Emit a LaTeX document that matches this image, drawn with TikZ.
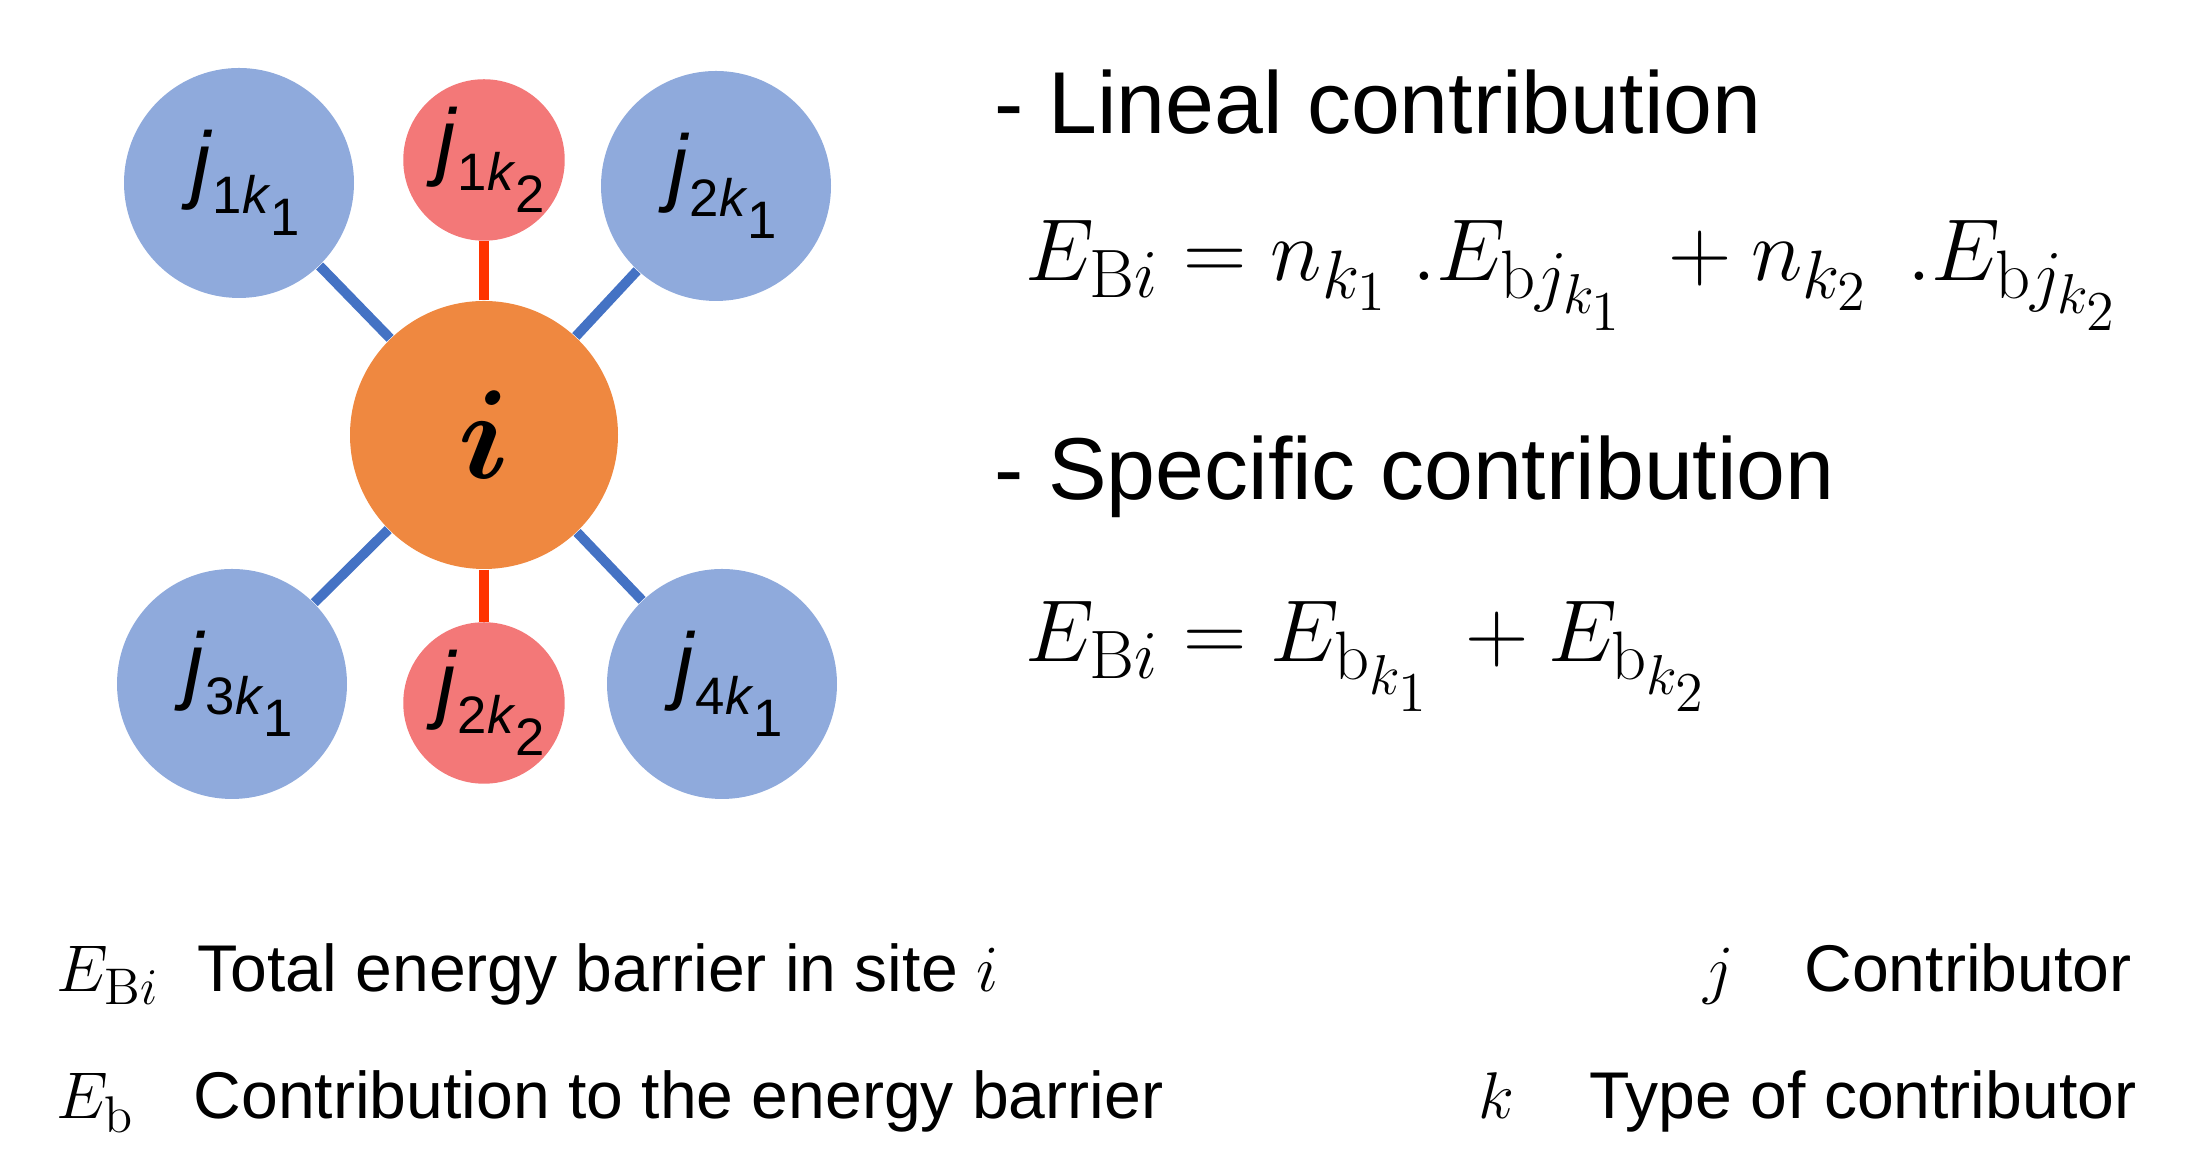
\RequirePackage{fix-cm}
\documentclass[tikz,border=0pt]{standalone}
\usepackage[no-math]{fontspec}
\setmainfont{Liberation Sans}
\renewcommand{\defaultscriptratio}{.78}
\renewcommand{\defaultscriptscriptratio}{.64}
\definecolor{siteorange}{HTML}{EF8840}
\definecolor{siteblue}{HTML}{8FAADC}
\definecolor{sitered}{HTML}{F37878}
\definecolor{bondblue}{HTML}{4472C4}
\definecolor{bondred}{HTML}{FF3300}
\newcommand{\jsite}[2]{\hspace*{4pt}\textit{j}\raisebox{-6pt}{\fontsize{15}{15}\selectfont #1\textit{k}\raisebox{-6.2pt}{#2}}}
\newcommand{\isite}{{\fontencoding{OML}\fontfamily{cmm}\fontseries{b}\fontshape{it}\fontsize{36}{36}\selectfont i}}
\begin{document}
\begin{tikzpicture}[scale=1.0,
    bigsite/.style={circle,fill=siteblue,minimum size=2.3cm,inner sep=0pt,font=\fontsize{24.5}{24.5}\selectfont},
    smallsite/.style={circle,fill=sitered,minimum size=1.6cm,inner sep=0pt,font=\fontsize{24.5}{24.5}\selectfont},
    bluebond/.style={draw=bondblue,line width=2.8pt},
    redbond/.style={draw=bondred,line width=2.8pt},
    head/.style={anchor=base west,inner sep=0pt,font=\fontsize{25}{25}\selectfont},
    eq/.style={anchor=base west,inner sep=0pt,font=\fontsize{25}{25}\selectfont},
    legend/.style={anchor=base west,inner sep=0pt,font=\fontsize{18.8}{18.8}\selectfont}]
    \useasboundingbox (0,0) rectangle (22.07,11.64);
    \node[circle,fill=siteorange,minimum size=2.68cm,inner sep=0pt] (i) at (4.84,7.29) {\isite};
    \node[smallsite] (j1k2) at (4.84,10.04) {\jsite{1}{2}};
    \node[smallsite] (j2k2) at (4.84,4.61) {\jsite{2}{2}};
    \node[bigsite] (j1k1) at (2.39,9.81) {\jsite{1}{1}};
    \node[bigsite] (j2k1) at (7.16,9.78) {\jsite{2}{1}};
    \node[bigsite] (j3k1) at (2.32,4.80) {\jsite{3}{1}};
    \node[bigsite] (j4k1) at (7.22,4.80) {\jsite{4}{1}};
    \draw[redbond] (i) -- (j1k2);
    \draw[redbond] (i) -- (j2k2);
    \foreach \j in {j1k1,j2k1,j3k1,j4k1}
        \draw[bluebond] (i) -- (\j);
    \node[head] (lineal) at (9.94,10.30) {- Lineal contribution};
    \node[eq] (eqlineal) at (10.25,8.83) {$E_{\mathrm{B}i}=n_{k_1}\;.E_{\mathrm{b}j_{k_1}}\;+n_{k_2}\;\,.E_{\mathrm{b}j_{k_2}}$};
    \node[head] (specific) at (9.94,6.64) {- Specific contribution};
    \node[eq] (eqspecific) at (10.25,5.02) {$E_{\mathrm{B}i}=E_{\mathrm{b}_{k_1}}\,+E_{\mathrm{b}_{k_2}}$};
    \node[legend] (symEB) at (0.56,1.72) {$E_{\mathrm{B}i}$};
    \node[legend] (txtEB) at (1.97,1.72) {Total energy barrier in site $i$};
    \node[legend] (symEb) at (0.56,0.45) {$E_{\mathrm{b}}$};
    \node[legend] (txtEb) at (1.93,0.45) {Contribution to the energy barrier};
    \node[legend] (symj) at (17.03,1.72) {$j$};
    \node[legend,anchor=base east] (txtj) at (21.32,1.72) {Contributor};
    \node[legend] (symk) at (14.78,0.45) {$k$};
    \node[legend,anchor=base east] (txtk) at (21.37,0.45) {Type of contributor};
\end{tikzpicture}
\end{document}
